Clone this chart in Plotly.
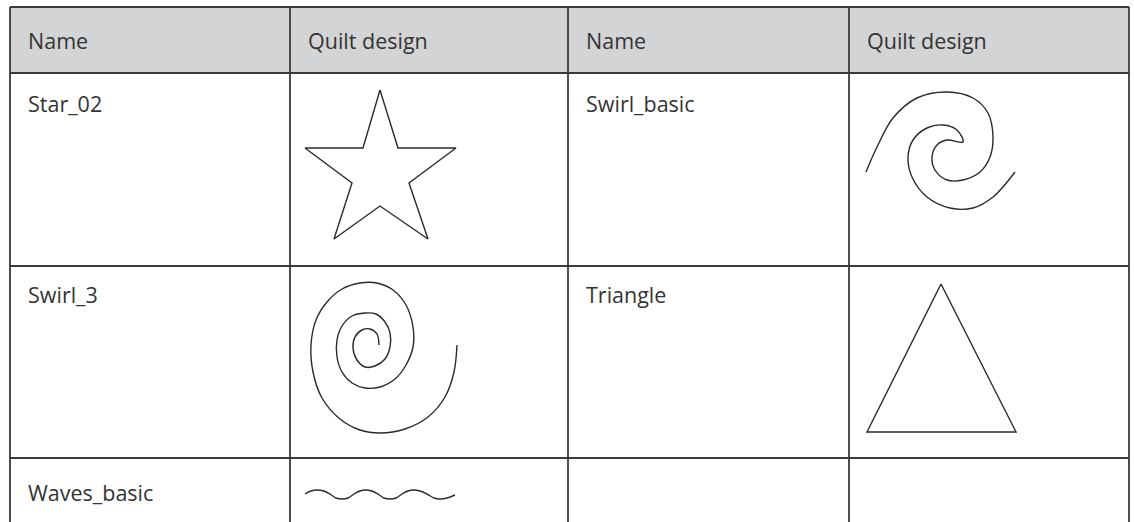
import plotly.graph_objects as go

# ---- table content ----
header_labels = ["Name", "Quilt design", "Name", "Quilt design"]
row_names_left = ["Star_02", "Swirl_3", "Waves_basic"]
row_names_right = ["Swirl_basic", "Triangle", ""]

# ---- grid geometry (pixel space) ----
col_edges = [10, 290, 568, 849, 1129]
row_edges = [7, 73, 266, 458, 522]

# ---- design outlines ----
star_x = [380, 398, 456, 409, 428, 380, 334, 352, 305, 363, 380]
star_y = [90, 148, 148, 183, 239, 206, 239, 183, 148, 148, 90]

swirl_basic_x = [866, 877, 893, 917, 947, 973, 988, 993, 990, 980, 963, 947, 935, 932, 937, 947, 963,
                 957, 943, 927, 913, 908, 912, 927, 950, 973, 993, 1015]
swirl_basic_y = [172, 147, 118, 98, 92, 98, 113, 137, 157, 172, 180, 180, 170, 157, 145, 140, 142,
                 130, 125, 128, 140, 157, 177, 197, 208, 208, 197, 172]

swirl3_x = [379, 377, 370, 362, 355, 353, 357, 365, 375, 385, 390, 390, 385, 376, 365, 352, 342, 337,
            337, 342, 352, 365, 380, 395, 406, 413, 413, 406, 393, 377, 360, 342, 327, 316, 311, 313,
            322, 340, 360, 380, 405, 428, 445, 454, 457]
swirl3_y = [345, 334, 329, 330, 337, 348, 360, 367, 366, 359, 347, 333, 322, 314, 313, 316, 326, 340,
            357, 372, 383, 388, 387, 379, 365, 347, 327, 305, 290, 283, 283, 289, 302, 320, 345, 372,
            398, 419, 430, 433, 429, 417, 397, 372, 345]

triangle_x = [941, 1016, 867, 941]
triangle_y = [284, 432, 432, 284]

wave_x = [305, 311, 317, 324, 330, 336, 342, 348, 354, 360, 365, 372, 378, 384, 390, 396, 402, 408,
          413, 420, 427, 434, 440, 447, 455]
wave_y = [494, 491, 490, 491, 494, 498, 499, 498, 494, 491, 490, 491, 494, 498, 499, 498, 494, 491,
          490, 491, 494, 498, 499, 498, 495]

LINE = "#2b2b2b"
GRID = "#3a3a3a"
TEXT = "#333333"
HEAD_BG = "#d3d4d6"
FONT = "Open Sans"
FSIZE = 21.5

fig = go.Figure()

designs = [
    (star_x, star_y, "linear"),
    (swirl_basic_x, swirl_basic_y, "spline"),
    (swirl3_x, swirl3_y, "spline"),
    (triangle_x, triangle_y, "linear"),
    (wave_x, wave_y, "spline"),
]
for xs, ys, shp in designs:
    fig.add_trace(go.Scatter(x=xs, y=ys, mode="lines",
                             line=dict(color=LINE, width=1.4, shape=shp, smoothing=1.0),
                             hoverinfo="skip", showlegend=False))

shapes = []
# header background
shapes.append(dict(type="rect", xref="x", yref="y", x0=col_edges[0], x1=col_edges[-1],
                   y0=row_edges[0], y1=row_edges[1], fillcolor=HEAD_BG, line=dict(width=0), layer="below"))
# horizontal lines
for y in row_edges[:-1]:
    shapes.append(dict(type="line", xref="x", yref="y", x0=col_edges[0], x1=col_edges[-1],
                       y0=y, y1=y, line=dict(color=GRID, width=1.8)))
# vertical lines
for x in col_edges:
    shapes.append(dict(type="line", xref="x", yref="y", x0=x, x1=x,
                       y0=row_edges[0], y1=row_edges[-1] + 2, line=dict(color=GRID, width=1.8)))

annotations = []
for i, lab in enumerate(header_labels):
    annotations.append(dict(x=col_edges[i] + 16, y=(row_edges[0] + row_edges[1]) / 2, xref="x", yref="y",
                            text=lab, showarrow=False, xanchor="left", yanchor="middle",
                            font=dict(family=FONT, size=FSIZE, color=TEXT)))
row_text_y = [103, 294, 492]
for r in range(3):
    for c, names in ((0, row_names_left), (2, row_names_right)):
        if names[r]:
            annotations.append(dict(x=col_edges[c] + 16, y=row_text_y[r], xref="x", yref="y",
                                    text=names[r], showarrow=False, xanchor="left", yanchor="middle",
                                    font=dict(family=FONT, size=FSIZE, color=TEXT)))

fig.update_layout(
    width=1134, height=522,
    margin=dict(l=0, r=0, t=0, b=0),
    paper_bgcolor="white", plot_bgcolor="white",
    xaxis=dict(range=[0, 1134], visible=False, fixedrange=True),
    yaxis=dict(range=[522, 0], visible=False, fixedrange=True),
    shapes=shapes, annotations=annotations,
)

fig.write_html("out.html", config={"displayModeBar": False},
               post_script="document.body.style.margin='0';document.body.style.overflow='hidden';")
